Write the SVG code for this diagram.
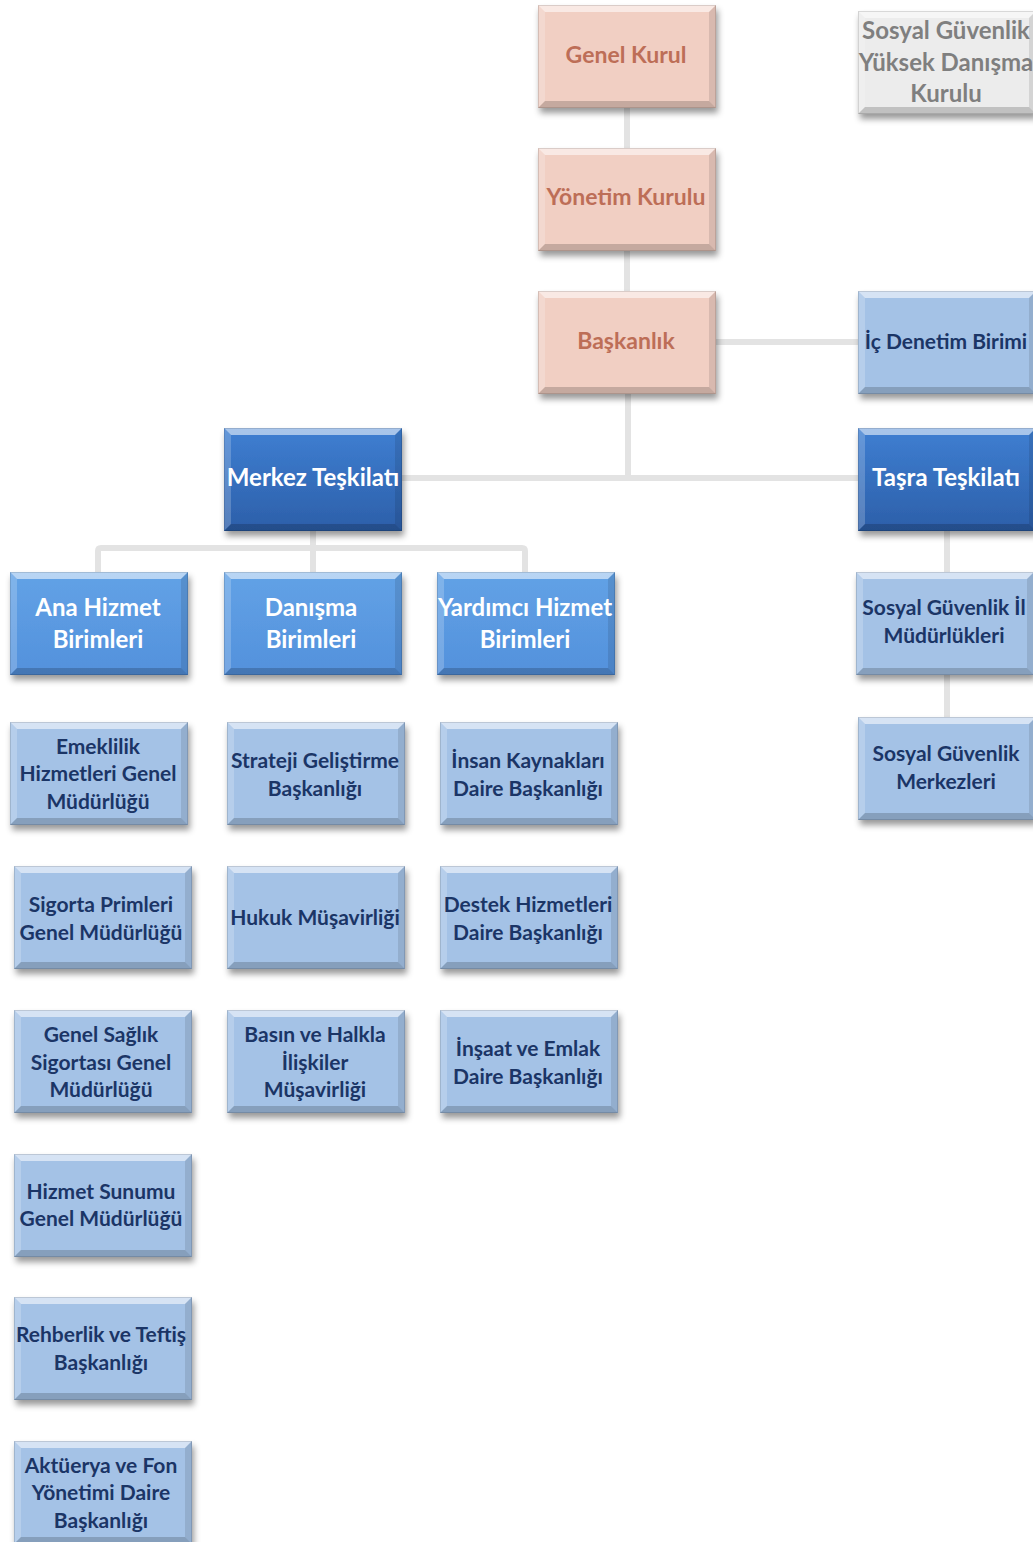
<svg xmlns="http://www.w3.org/2000/svg" xmlns:xlink="http://www.w3.org/1999/xlink" width="1033" height="1542" viewBox="0 0 1033 1542">
<style>
text{font-family:Lato,"Open Sans","Liberation Sans",sans-serif;font-weight:700;text-anchor:middle;dominant-baseline:central}
.tp{fill:#bd6e57;font-size:23px}
.tg{fill:#7f7f7f;font-size:24px}
.tw{fill:#ffffff;font-size:24px}
.tn{fill:#1b3566;font-size:21px}
.conn{stroke:#e3e3e3;stroke-width:6;fill:none}
</style>
<defs>
<filter id="sh" x="-10%" y="-10%" width="125%" height="135%">
<feDropShadow dx="2" dy="5" stdDeviation="3" flood-color="#000" flood-opacity="0.4"/>
</filter>
<linearGradient id="gd" x1="0" y1="0" x2="0" y2="1">
<stop offset="0" stop-color="#3f7fd2"/><stop offset="1" stop-color="#2c5fa9"/>
</linearGradient>
<linearGradient id="gm" x1="0" y1="0" x2="0" y2="1">
<stop offset="0" stop-color="#62a2e6"/><stop offset="1" stop-color="#5391dc"/>
</linearGradient>
<g id="bevel">
<polygon points="0,0 178,0 171,7 7,7" fill="#fff" opacity="0.55"/>
<polygon points="0,0 7,7 7,96 0,103" fill="#fff" opacity="0.2"/>
<polygon points="178,0 178,103 171,96 171,7" fill="#000" opacity="0.1"/>
<polygon points="0,103 178,103 171,96 7,96" fill="#000" opacity="0.18"/>
<rect x="0.5" y="0.5" width="177" height="102" fill="none" stroke="#000" stroke-opacity="0.12"/>
</g>
<g id="pbox"><rect width="178" height="103" fill="#f1cfc3" filter="url(#sh)"/><use xlink:href="#bevel"/></g>
<g id="gbox"><rect width="178" height="103" fill="#ececec" filter="url(#sh)"/><use xlink:href="#bevel"/></g>
<g id="dbox"><rect width="178" height="103" fill="url(#gd)" filter="url(#sh)"/><use xlink:href="#bevel"/></g>
<g id="mbox"><rect width="178" height="103" fill="url(#gm)" filter="url(#sh)"/><use xlink:href="#bevel"/></g>
<g id="lbox"><rect width="178" height="103" fill="#a4c2e6" filter="url(#sh)"/><use xlink:href="#bevel"/></g>
</defs>
<rect width="1033" height="1542" fill="#ffffff"/>
<g id="connectors">
<line class="conn" x1="627" y1="105" x2="627" y2="149"/>
<line class="conn" x1="627" y1="248" x2="627" y2="292"/>
<line class="conn" x1="714" y1="342" x2="858" y2="342"/>
<line class="conn" x1="628" y1="392" x2="628" y2="478"/>
<line class="conn" x1="401" y1="478" x2="858" y2="478"/>
<line class="conn" x1="313" y1="528" x2="313" y2="548"/>
<path class="conn" d="M98,572 V551 Q98,548 101,548 H522 Q525,548 525,551 V572"/>
<line class="conn" x1="313" y1="548" x2="313" y2="572"/>
<line class="conn" x1="947" y1="528" x2="947" y2="572"/>
<line class="conn" x1="947" y1="674" x2="947" y2="717"/>
</g>
<g id="n-genel-kurul"><use xlink:href="#pbox" x="538" y="5"/><text class="tp" x="626" y="54">Genel Kurul</text></g>
<g id="n-yonetim-kurulu"><use xlink:href="#pbox" x="538" y="148"/><text class="tp" x="626" y="196">Yönetim Kurulu</text></g>
<g id="n-baskanlik"><use xlink:href="#pbox" x="538" y="291"/><text class="tp" x="626" y="340">Başkanlık</text></g>
<g id="n-sgydk"><use xlink:href="#gbox" x="858" y="11"/><text class="tg" x="946" y="29">Sosyal Güvenlik</text><text class="tg" x="946" y="61">Yüksek Danışma</text><text class="tg" x="946" y="92">Kurulu</text></g>
<g id="n-ic-denetim"><use xlink:href="#lbox" x="858" y="291"/><text class="tn" x="946" y="340">İç Denetim Birimi</text></g>
<g id="n-merkez"><use xlink:href="#dbox" x="224" y="428"/><text class="tw" x="313" y="476">Merkez Teşkilatı</text></g>
<g id="n-tasra"><use xlink:href="#dbox" x="858" y="428"/><text class="tw" x="946" y="476">Taşra Teşkilatı</text></g>
<g id="n-ana-hizmet"><use xlink:href="#mbox" x="10" y="572"/><text class="tw" x="98" y="606">Ana Hizmet</text><text class="tw" x="98" y="638">Birimleri</text></g>
<g id="n-danisma"><use xlink:href="#mbox" x="224" y="572"/><text class="tw" x="311" y="606">Danışma</text><text class="tw" x="311" y="638">Birimleri</text></g>
<g id="n-yardimci"><use xlink:href="#mbox" x="437" y="572"/><text class="tw" x="525" y="606">Yardımcı Hizmet</text><text class="tw" x="525" y="638">Birimleri</text></g>
<g id="n-sg-il"><use xlink:href="#lbox" x="856" y="572"/><text class="tn" x="944" y="606">Sosyal Güvenlik İl</text><text class="tn" x="944" y="634">Müdürlükleri</text></g>
<g id="n-sg-merkezleri"><use xlink:href="#lbox" x="858" y="717"/><text class="tn" x="946" y="752">Sosyal Güvenlik</text><text class="tn" x="946" y="780">Merkezleri</text></g>
<g id="n-emeklilik"><use xlink:href="#lbox" x="10" y="722"/><text class="tn" x="98" y="745">Emeklilik</text><text class="tn" x="98" y="772">Hizmetleri Genel</text><text class="tn" x="98" y="800">Müdürlüğü</text></g>
<g id="n-strateji"><use xlink:href="#lbox" x="227" y="722"/><text class="tn" x="315" y="759">Strateji Geliştirme</text><text class="tn" x="315" y="787">Başkanlığı</text></g>
<g id="n-insan"><use xlink:href="#lbox" x="440" y="722"/><text class="tn" x="528" y="759">İnsan Kaynakları</text><text class="tn" x="528" y="787">Daire Başkanlığı</text></g>
<g id="n-sigorta"><use xlink:href="#lbox" x="14" y="866"/><text class="tn" x="101" y="903">Sigorta Primleri</text><text class="tn" x="101" y="931">Genel Müdürlüğü</text></g>
<g id="n-hukuk"><use xlink:href="#lbox" x="227" y="866"/><text class="tn" x="315" y="916">Hukuk Müşavirliği</text></g>
<g id="n-destek"><use xlink:href="#lbox" x="440" y="866"/><text class="tn" x="528" y="903">Destek Hizmetleri</text><text class="tn" x="528" y="931">Daire Başkanlığı</text></g>
<g id="n-gss"><use xlink:href="#lbox" x="14" y="1010"/><text class="tn" x="101" y="1033">Genel Sağlık</text><text class="tn" x="101" y="1061">Sigortası Genel</text><text class="tn" x="101" y="1088">Müdürlüğü</text></g>
<g id="n-basin"><use xlink:href="#lbox" x="227" y="1010"/><text class="tn" x="315" y="1033">Basın ve Halkla</text><text class="tn" x="315" y="1061">İlişkiler</text><text class="tn" x="315" y="1088">Müşavirliği</text></g>
<g id="n-insaat"><use xlink:href="#lbox" x="440" y="1010"/><text class="tn" x="528" y="1047">İnşaat ve Emlak</text><text class="tn" x="528" y="1075">Daire Başkanlığı</text></g>
<g id="n-hizmet-sunumu"><use xlink:href="#lbox" x="14" y="1154"/><text class="tn" x="101" y="1190">Hizmet Sunumu</text><text class="tn" x="101" y="1217">Genel Müdürlüğü</text></g>
<g id="n-rehberlik"><use xlink:href="#lbox" x="14" y="1297"/><text class="tn" x="101" y="1333">Rehberlik ve Teftiş</text><text class="tn" x="101" y="1361">Başkanlığı</text></g>
<g id="n-akturya"><use xlink:href="#lbox" x="14" y="1441"/><text class="tn" x="101" y="1464">Aktüerya ve Fon</text><text class="tn" x="101" y="1491">Yönetimi Daire</text><text class="tn" x="101" y="1519">Başkanlığı</text></g>
</svg>
